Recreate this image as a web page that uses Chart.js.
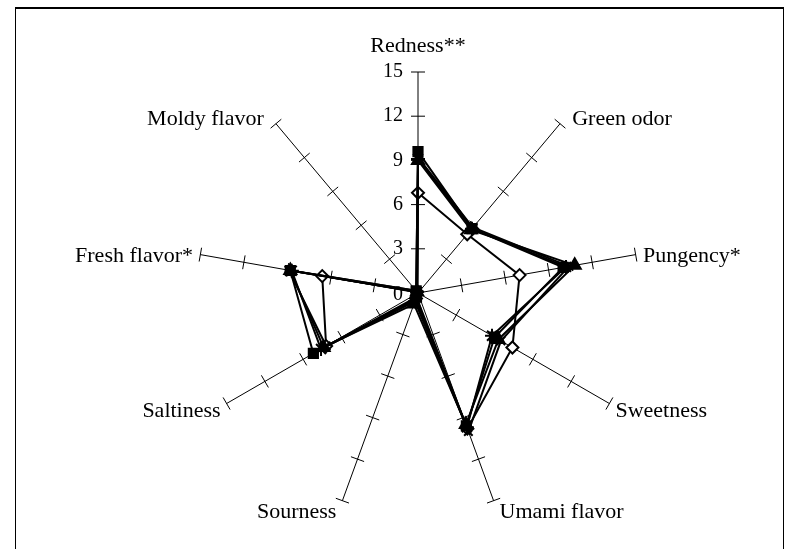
<!DOCTYPE html>
<html>
<head>
<meta charset="utf-8">
<script src="https://cdn.jsdelivr.net/npm/chart.js@4.4.0/dist/chart.umd.min.js"></script>
<style>
  html, body { margin: 0; padding: 0; background: #fff; overflow: hidden; }
  #zone { position: absolute; left: 0; top: 0; width: 791px; height: 549px; }
  #cadre { position: absolute; left: 15px; top: 7px; width: 767px; height: 560px; border: 1px solid #000; border-top-width: 2px; pointer-events: none; }
</style>
</head>
<body>
<div id="zone"><canvas id="radar-chart"></canvas></div>
<div id="cadre"></div>
<script>
// Attributs sensoriels (axes du radar)
var attributs = ['Redness**', 'Green odor', 'Pungency*', 'Sweetness', 'Umami flavor', 'Sourness', 'Saltiness', 'Fresh flavor*', 'Moldy flavor']
var graduations = [0, 3, 6, 9, 12, 15]

// Scores moyens par echantillon
var serieCarre    = [9.6, 5.7, 10.0, 6.0, 9.6, 0.3, 8.2, 8.8, 0.2]
var serieTriangle = [9.0, 5.6, 10.8, 6.3, 9.5, 0.8, 7.4, 8.8, 0.1]
var serieLosange  = [6.8, 5.2, 7.0, 7.4, 9.8, 0.4, 7.2, 6.6, 0.1]
var serieCroix    = [9.2, 5.8, 10.4, 6.5, 10.0, 0.5, 7.2, 8.9, 0.2]
var serieEtoile   = [9.1, 5.7, 10.2, 5.8, 9.7, 0.6, 7.6, 8.7, 0.1]

var policeNoms = '22px "Liberation Serif", "Times New Roman", serif'
var policeValeurs = '20px "Liberation Serif", "Times New Roman", serif'

function serie(data, forme, rayon, fond) {
    return {
        data: data,
        fill: false,
        borderColor: '#000',
        borderWidth: 2,
        pointStyle: forme,
        pointRadius: rayon,
        pointBorderWidth: 2,
        pointBorderColor: '#000',
        pointBackgroundColor: fond
    }
}

// Graduations sur les axes + noms des attributs
const decorAxes = {
    id: 'decorAxes',
    beforeDatasetsDraw(chart) {
        var ctx = chart.ctx
        var r = chart.scales.r
        ctx.save()
        ctx.strokeStyle = '#000'
        ctx.lineWidth = 1
        for (var i = 0; i < attributs.length; i++) {
            var a = r.getIndexAngle(i)
            var px = Math.cos(a), py = Math.sin(a)
            for (var g of graduations) {
                if (g == 0) continue
                var p = r.getPointPositionForValue(i, g)
                var demi = 7
                ctx.beginPath()
                ctx.moveTo(p.x - px * demi, p.y - py * demi)
                ctx.lineTo(p.x + px * demi, p.y + py * demi)
                ctx.stroke()
            }
        }

        ctx.fillStyle = '#000'

        // valeurs sur l'axe vertical
        ctx.font = policeValeurs
        ctx.textAlign = 'right'
        ctx.textBaseline = 'middle'
        for (var g of graduations) {
            var p = r.getPointPositionForValue(0, g)
            ctx.fillText(String(g), p.x - 15, p.y + (g == 0 ? 2 : 0))
        }

        // noms des attributs
        ctx.font = policeNoms
        var max = graduations[graduations.length - 1]
        for (var i = 0; i < attributs.length; i++) {
            var a = r.getIndexAngle(i)
            var s = Math.sin(a), c = Math.cos(a)
            var p = r.getPointPositionForValue(i, max)
            if (Math.abs(s) < 0.1) {
                ctx.textAlign = 'center'
                ctx.textBaseline = 'middle'
                ctx.fillText(attributs[i], p.x, p.y - 26)
                continue
            }
            var dx = 6 + 8 * Math.max(c, 0)
            ctx.textAlign = s > 0 ? 'left' : 'right'
            ctx.textBaseline = 'middle'
            ctx.fillText(attributs[i], p.x + (s > 0 ? dx : -dx), p.y + 3 - 9.5 * c)
        }
        ctx.restore()
    }
}

const configRadar = {
    type: 'radar',
    data: {
        labels: attributs,
        datasets: [
            serie(serieCarre, 'rect', 6.5, '#000'),
            serie(serieTriangle, 'triangle', 7, '#000'),
            serie(serieCroix, 'crossRot', 6, '#000'),
            serie(serieEtoile, 'star', 7, '#000'),
            serie(serieLosange, 'rectRot', 6, '#fff')
        ]
    },
    options: {
        responsive: true,
        maintainAspectRatio: false,
        animation: false,
        layout: { padding: { left: 197, right: 152, top: 72, bottom: 35 } },
        plugins: { legend: { display: false }, tooltip: { enabled: false } },
        elements: { line: { tension: 0 } },
        scales: {
            r: {
                min: 0,
                max: 15,
                ticks: { display: false, stepSize: 3 },
                grid: { display: false },
                angleLines: { display: true, color: '#000', lineWidth: 1 },
                pointLabels: { display: false }
            }
        }
    },
    plugins: [decorAxes]
}

window.onload = function() {
    var ctx = document.getElementById('radar-chart').getContext('2d')
    var monRadar = new Chart(ctx, configRadar)
}
</script>
</body>
</html>
